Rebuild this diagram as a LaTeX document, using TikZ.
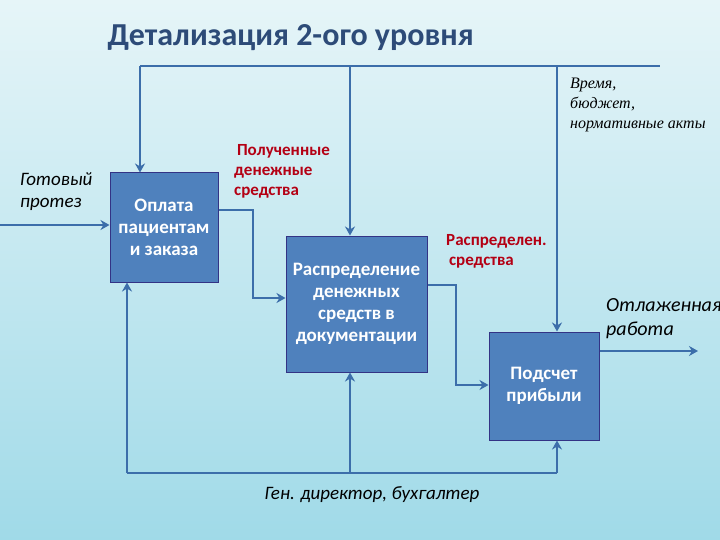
\documentclass[tikz,border=0pt]{standalone}
\usepackage{fontspec}
\usetikzlibrary{arrows.meta}
\setmainfont{Carlito}
\newfontfamily\ital{Liberation Serif}
\begin{document}
\begin{tikzpicture}[x=1pt,y=-1pt,
  box/.style={draw=blue!40!black!80!white, fill={rgb,255:red,79;green,129;blue,189}, line width=1pt, text=white, align=center, font=\fontsize{19}{22}\selectfont\bfseries, inner sep=0pt},
  con/.style={draw={rgb,255:red,60;green,110;blue,170}, line width=2.6pt},
  arr/.style={con, -{Stealth[length=9pt,width=10pt]}},
  redlab/.style={text={rgb,255:red,180;green,0;blue,20}, font=\fontsize{17}{20}\selectfont\bfseries, align=left},
  lab/.style={align=left}]
\shade[top color={rgb,255:red,230;green,245;blue,248}, bottom color={rgb,255:red,160;green,218;blue,232}] (0,0) rectangle (720,540);
\useasboundingbox (0,0) rectangle (720,540);
\node[anchor=west, text={rgb,255:red,45;green,75;blue,120}, font=\fontsize{32}{36}\selectfont\bfseries] (title) at (104,38) {Детализация 2-ого уровня};
\node[box, minimum width=108, minimum height=109] (b1) at (164,227.5) {Оплата\\пациентам\\и заказа};
\node[box, minimum width=141, minimum height=136] (b2) at (356.5,304) {Распределение\\денежных\\средств в\\документации};
\node[box, minimum width=110, minimum height=108] (b3) at (544,386) {Подсчет\\прибыли};
\coordinate (tl) at (140,66); \coordinate (tr) at (660,66);
\coordinate (in) at (0,225); \coordinate (out) at (698,351);
\coordinate (bl) at (127,473); \coordinate (br) at (557,473);
\draw[con] (tl) -- (tr);
\draw[arr] (tl) -- (b1.north -| tl);
\draw[arr] (350,66) -- (b2.north -| 350,0);
\draw[arr] (557,66) -- (b3.north -| 557,0);
\draw[arr] (in) -- (in -| b1.west);
\draw[arr] (b1.east |- 0,210) -- (253,210) -- (253,298) -- (b2.west |- 0,298);
\draw[arr] (b2.east |- 0,285) -- (456,285) -- (456,385) -- (b3.west |- 0,385);
\draw[arr] (b3.east |- out) -- (out);
\draw[con] (bl) -- (br);
\draw[arr] (bl) -- (b1.south -| bl);
\draw[arr] (350,473) -- (b2.south -| 350,0);
\draw[arr] (br) -- (b3.south -| br);
\node[lab, anchor=north west, font=\itshape\fontsize{19}{22}\selectfont, inner sep=0pt] (l1) at (20,172) {Готовый\\протез};
\node[redlab, anchor=north west, inner sep=0pt] (l2) at (234,144) {\,Полученные\\денежные\\средства};
\node[redlab, anchor=north west, inner sep=0pt] (l3) at (446,234) {Распределен.\\\,средства};
\node[lab, anchor=north west, font=\ital\itshape\fontsize{16}{20}\selectfont, inner sep=0pt] (l4) at (570,78) {Время,\\бюджет,\\нормативные акты};
\node[lab, anchor=north west, font=\itshape\fontsize{20}{24}\selectfont, inner sep=0pt] (l5) at (606,298) {Отлаженная\\работа};
\node[anchor=north, font=\itshape\fontsize{19}{22}\selectfont, inner sep=0pt] (l6) at (372,486) {Ген. директор, бухгалтер};
\end{tikzpicture}
\end{document}
